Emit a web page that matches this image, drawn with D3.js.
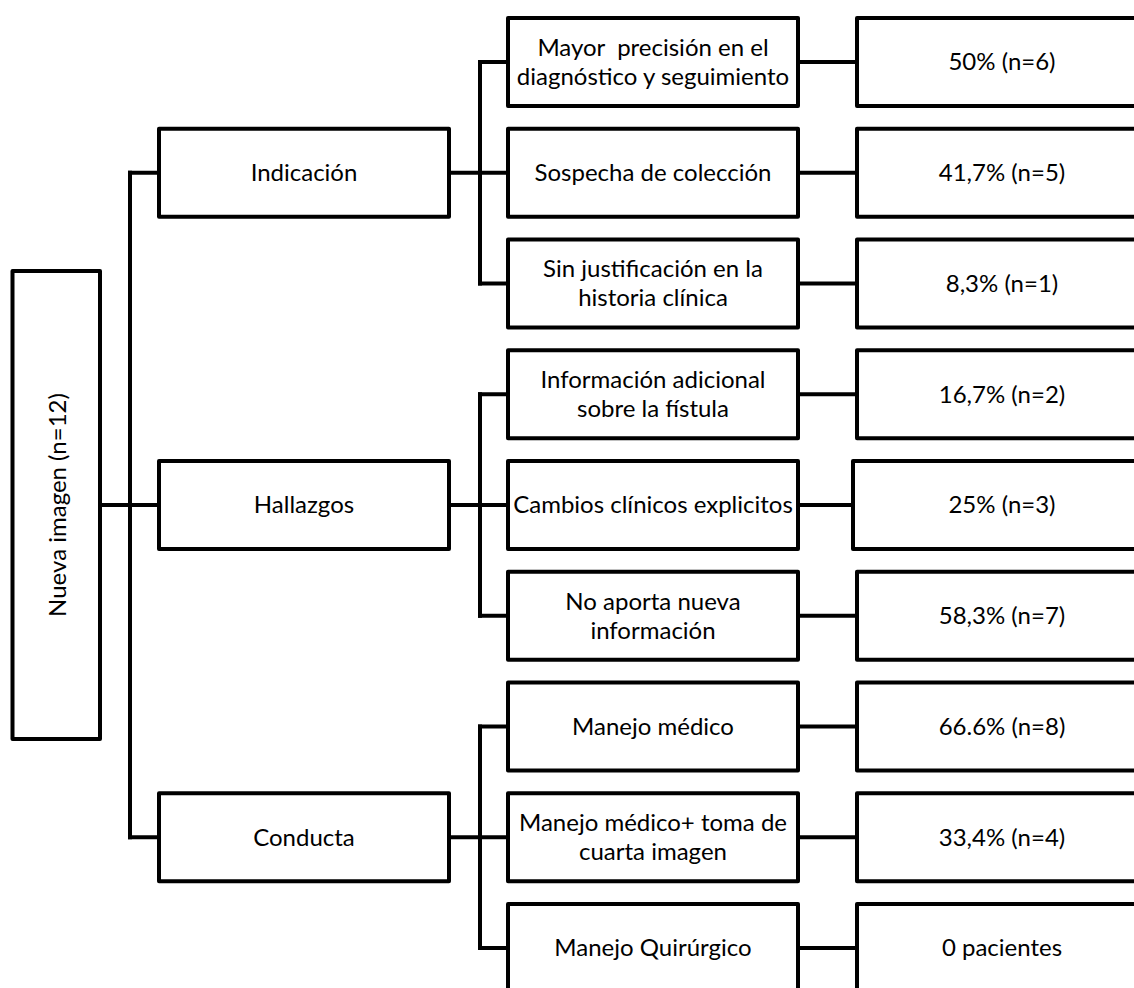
<!DOCTYPE html>
<html>
<head>
<meta charset="utf-8">
<script src="https://cdn.jsdelivr.net/npm/d3@7"></script>
<style>
  html, body { margin: 0; padding: 0; background: #fff; overflow: hidden; }
  svg text { font-family: Lato, "Open Sans", sans-serif; fill: #000; white-space: pre; }
</style>
</head>
<body>
<div id="chart"></div>
<script>
var rootLabel = "Nueva imagen (n=12)";

var groups = ["Indicación", "Hallazgos", "Conducta"];

var options = [
  "Mayor  precisión en el\ndiagnóstico y seguimiento",
  "Sospecha de colección",
  "Sin justificación en la\nhistoria clínica",
  "Información adicional\nsobre la fístula",
  "Cambios clínicos explicitos",
  "No aporta nueva\ninformación",
  "Manejo médico",
  "Manejo médico+ toma de\ncuarta imagen",
  "Manejo Quirúrgico"
];

var optionGroup = [0, 0, 0, 1, 1, 1, 2, 2, 2];

var results = [
  "50% (n=6)", "41,7% (n=5)", "8,3% (n=1)",
  "16,7% (n=2)", "25% (n=3)", "58,3% (n=7)",
  "66.6% (n=8)", "33,4% (n=4)", "0 pacientes"
];

var w = 1134, h = 988;
var fontSize = 24, lineH = 29;

var svg = d3.select("#chart")
  .append("svg")
  .attr("width", w)
  .attr("height", h);

// rows of the two right columns
var yScale = d3.scaleBand()
  .domain(d3.range(options.length))
  .range([18, 992])
  .paddingInner(0.2054)
  .paddingOuter(0);

var bh = yScale.bandwidth();
function cy(i) { return yScale(i) + bh / 2; }

// column layout
var col = {
  root:  { x: 12.5, w: 87.5 },
  group: { x: 159, w: 290 },
  opt:   { x: 508, w: 290 },
  res:   { x: 857, w: 290 }
};
var trunkX = 130, busX = 480;

var groupRow = groups.map(function(g, gi) {
  var rows = optionGroup.map(function(d, i) { return d === gi ? i : -1; })
    .filter(function(i) { return i >= 0; });
  return { label: g, rows: rows, mid: rows[Math.floor(rows.length / 2)] };
});

var line = svg.append("g")
  .attr("stroke", "#000")
  .attr("stroke-width", 4)
  .attr("fill", "none")
  .attr("stroke-linecap", "square");

var rootY = cy(groupRow[1].mid);

// root -> trunk
line.append("line")
  .attr("x1", col.root.x + col.root.w).attr("x2", trunkX)
  .attr("y1", rootY).attr("y2", rootY);

line.append("line")
  .attr("x1", trunkX).attr("x2", trunkX)
  .attr("y1", cy(groupRow[0].mid))
  .attr("y2", cy(groupRow[groupRow.length - 1].mid));

line.selectAll(".gl")
  .data(groupRow)
  .enter()
  .append("line")
  .attr("x1", trunkX).attr("x2", col.group.x)
  .attr("y1", function(d) { return cy(d.mid); })
  .attr("y2", function(d) { return cy(d.mid); });

// group -> bus
line.selectAll(".gb")
  .data(groupRow)
  .enter()
  .append("line")
  .attr("x1", col.group.x + col.group.w).attr("x2", busX)
  .attr("y1", function(d) { return cy(d.mid); })
  .attr("y2", function(d) { return cy(d.mid); });

line.selectAll(".bus")
  .data(groupRow)
  .enter()
  .append("line")
  .attr("x1", busX).attr("x2", busX)
  .attr("y1", function(d) { return cy(d.rows[0]); })
  .attr("y2", function(d) { return cy(d.rows[d.rows.length - 1]); });

// bus -> options
line.selectAll(".ob")
  .data(options)
  .enter()
  .append("line")
  .attr("x1", busX).attr("x2", col.opt.x)
  .attr("y1", function(d, i) { return cy(i); })
  .attr("y2", function(d, i) { return cy(i); });

// options -> results (the fifth result box sits a little further left)
function resX(i) { return col.res.x - (i === 4 ? 4 : 0); }

line.selectAll(".or")
  .data(results)
  .enter()
  .append("line")
  .attr("x1", col.opt.x + col.opt.w).attr("x2", function(d, i) { return resX(i); })
  .attr("y1", function(d, i) { return cy(i); })
  .attr("y2", function(d, i) { return cy(i); });

// boxes
var box = svg.append("g")
  .attr("stroke", "#000")
  .attr("stroke-width", 4)
  .attr("fill", "#fff")
  .attr("stroke-linejoin", "round");

box.append("rect")
  .attr("x", col.root.x).attr("y", 271)
  .attr("width", col.root.w).attr("height", 2 * (rootY - 271));

box.selectAll(".grect")
  .data(groupRow)
  .enter()
  .append("rect")
  .attr("x", col.group.x)
  .attr("y", function(d) { return yScale(d.mid); })
  .attr("width", col.group.w)
  .attr("height", bh);

box.selectAll(".orect")
  .data(options)
  .enter()
  .append("rect")
  .attr("x", col.opt.x)
  .attr("y", function(d, i) { return yScale(i); })
  .attr("width", col.opt.w)
  .attr("height", bh);

box.selectAll(".rrect")
  .data(results)
  .enter()
  .append("rect")
  .attr("x", function(d, i) { return resX(i); })
  .attr("y", function(d, i) { return yScale(i); })
  .attr("width", col.res.w)
  .attr("height", bh);

// labels
function label(g, x, y, txt) {
  var lines = txt.split("\n");
  var t = g.append("text")
    .attr("x", x).attr("y", y)
    .attr("font-size", fontSize + "px")
    .attr("text-anchor", "middle");
  lines.forEach(function(l, k) {
    t.append("tspan")
      .attr("x", x)
      .attr("y", y + (k - (lines.length - 1) / 2) * lineH)
      .attr("dy", "0.35em")
      .text(l);
  });
  return t;
}

var txt = svg.append("g");

label(txt, 0, 0, rootLabel)
  .attr("transform", "translate(" + (col.root.x + col.root.w / 2 + 1) + "," + rootY + ") rotate(-90)");

groupRow.forEach(function(d) {
  label(txt, col.group.x + col.group.w / 2, cy(d.mid), d.label);
});

options.forEach(function(d, i) {
  label(txt, col.opt.x + col.opt.w / 2, cy(i), d);
});

results.forEach(function(d, i) {
  label(txt, col.res.x + col.res.w / 2, cy(i), d);
});
</script>
</body>
</html>
